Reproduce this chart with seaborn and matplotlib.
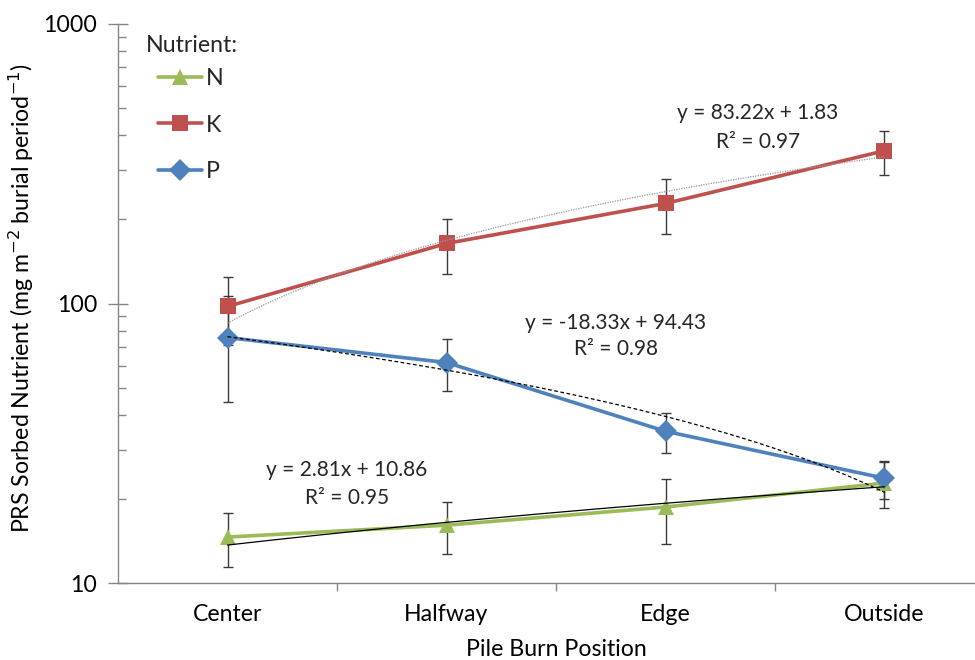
import numpy as np
import pandas as pd
import matplotlib
matplotlib.use("Agg")
import matplotlib.pyplot as plt
import seaborn as sns

# ---- data ----
positions = ["Center", "Halfway", "Edge", "Outside"]
nutrients = ["N", "K", "P"]
n_values = [14.6, 16.1, 18.7, 22.8]
k_values = [97.6, 164.0, 228.0, 352.0]
p_values = [75.5, 61.5, 34.9, 23.7]
n_err = [3.2, 3.4, 4.9, 4.2]
k_err = [26.5, 36.0, 51.0, 63.0]
p_err = [31.0, 13.0, 5.7, 3.7]
# linear trendlines (x = 1..4) as printed on the chart
slopes = {"N": 2.81, "K": 83.22, "P": -18.33}
intercepts = {"N": 10.86, "K": 1.83, "P": 94.43}
r2 = {"N": 0.95, "K": 0.97, "P": 0.98}
y_ticks = [10, 100, 1000]

colors = {"N": "#9BBB59", "K": "#C0504D", "P": "#4F81BD"}
markers = {"N": "^", "K": "s", "P": "D"}

values = {"N": n_values, "K": k_values, "P": p_values}
errors = {"N": n_err, "K": k_err, "P": p_err}

df = pd.DataFrame({
    "pos": np.tile(np.arange(len(positions)), len(nutrients)),
    "Nutrient": np.repeat(nutrients, len(positions)),
    "value": n_values + k_values + p_values,
})

sns.set_theme(style="white")
plt.rcParams["font.family"] = ["Lato", "DejaVu Sans"]

FS = 16.7
W, H = 975, 660
fig = plt.figure(figsize=(W / 100, H / 100), dpi=100)
L, R, T, B = 118, 994, 24, 583
ax = fig.add_axes([L / W, 1 - B / H, (R - L) / W, (B - T) / H])

def fx(px):
    return px / W

def fy(py):
    return 1 - py / H

# error bars
for nut in nutrients:
    ax.errorbar(np.arange(len(positions)), values[nut], yerr=errors[nut],
                fmt="none", ecolor="#3a3a3a", elinewidth=1.0, capsize=3.8,
                capthick=1.0, zorder=2)

sns.lineplot(data=df, x="pos", y="value", hue="Nutrient", style="Nutrient",
             hue_order=nutrients, style_order=nutrients, palette=colors,
             markers=markers, dashes=False, linewidth=2.6, markersize=11,
             markeredgewidth=0, ax=ax, zorder=3, legend=True)

# trendlines
xs = np.linspace(0, 3, 200)
tstyle = {"N": dict(color="black", lw=0.9, ls="-"),
          "K": dict(color="#9a9a9a", lw=0.9, ls=(0, (1, 1))),
          "P": dict(color="black", lw=0.9, ls=(0, (3, 2)))}
for nut in nutrients:
    ax.plot(xs, slopes[nut] * (xs + 1) + intercepts[nut], zorder=4, **tstyle[nut])

ax.set_yscale("log")
ax.set_ylim(10, 1000)
ax.set_xlim(-0.5, 3.5)
ax.set_yticks(y_ticks)
ax.set_yticklabels([str(t) for t in y_ticks])
ax.yaxis.set_minor_locator(matplotlib.ticker.LogLocator(base=10, subs=np.arange(2, 10)))
ax.yaxis.set_minor_formatter(matplotlib.ticker.NullFormatter())
ax.tick_params(axis="y", which="major", direction="inout", length=14, width=1,
               color="#868686", labelsize=FS, pad=8, labelcolor="black", left=True)
ax.tick_params(axis="y", which="minor", direction="in", length=6, width=1,
               color="#868686", left=True)

ax.set_xticks(range(len(positions)))
ax.set_xticklabels(positions)
ax.set_xticks([0.5, 1.5, 2.5], minor=True)
ax.tick_params(axis="x", which="major", length=0, labelsize=FS, pad=15, labelcolor="black")
ax.tick_params(axis="x", which="minor", direction="out", length=6, width=1,
               color="#868686", bottom=True)

for s in ["top", "right"]:
    ax.spines[s].set_visible(False)
for s in ["left", "bottom"]:
    ax.spines[s].set_color("#868686")
    ax.spines[s].set_linewidth(1.0)

ax.set_xlabel("Pile Burn Position", fontsize=FS, labelpad=10, color="black")
ax.set_ylabel("PRS Sorbed Nutrient (mg m$^{-2}$ burial period$^{-1}$)",
              fontsize=FS, color="black")
ax.yaxis.set_label_coords((36 - L) / (R - L), (B - 298) / (B - T))

# legend
handles, labels = ax.get_legend_handles_labels()
leg = ax.legend(handles, labels, loc="upper left",
                bbox_to_anchor=((158 - L) / (R - L), (B - 68) / (B - T)),
                frameon=False, fontsize=FS, handlelength=1.9, handletextpad=0.15,
                labelspacing=1.1, borderaxespad=0, borderpad=0)
fig.text(fx(146), fy(45), "Nutrient:", fontsize=FS, ha="left", va="center")

# trendline equations
eqs = {"K": (758, 113, 142), "P": (616, 323, 349), "N": (347, 470, 498)}
for nut, (cx, y1, y2) in eqs.items():
    b = intercepts[nut]
    fig.text(fx(cx), fy(y1), f"y = {slopes[nut]:.2f}x + {b:.2f}",
             fontsize=15, ha="center", va="center")
    fig.text(fx(cx), fy(y2), f"R² = {r2[nut]:.2f}",
             fontsize=15, ha="center", va="center")

fig.savefig("out.png", dpi=100)
